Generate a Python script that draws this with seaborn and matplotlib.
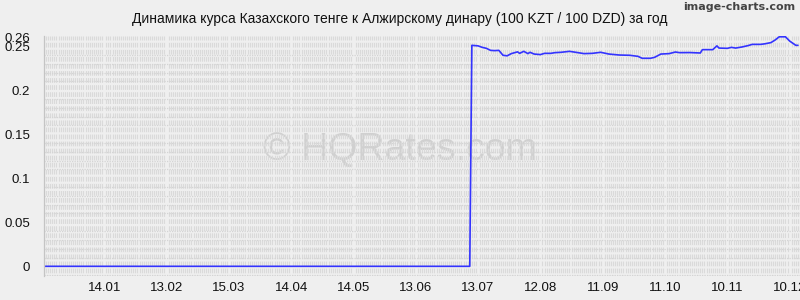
import matplotlib
matplotlib.use("Agg")
import matplotlib.pyplot as plt
import matplotlib.dates as mdates
from matplotlib.ticker import MultipleLocator, FixedLocator
import seaborn as sns
import pandas as pd

# ---- data ----
dates = [
    "2014-12-16", "2015-07-09",
    "2015-07-10", "2015-07-13", "2015-07-15", "2015-07-17", "2015-07-19", "2015-07-21",
    "2015-07-23", "2015-07-25", "2015-07-27", "2015-07-29", "2015-08-01", "2015-08-02",
    "2015-08-04", "2015-08-06", "2015-08-07", "2015-08-09", "2015-08-12", "2015-08-14",
    "2015-08-17", "2015-08-19", "2015-08-22", "2015-08-26", "2015-08-29", "2015-09-02",
    "2015-09-06", "2015-09-10", "2015-09-14", "2015-09-19", "2015-09-24", "2015-09-28",
    "2015-09-30", "2015-10-04", "2015-10-06", "2015-10-09", "2015-10-13", "2015-10-16",
    "2015-10-18", "2015-10-23", "2015-10-28", "2015-10-29", "2015-11-03", "2015-11-05",
    "2015-11-06", "2015-11-10", "2015-11-12", "2015-11-14", "2015-11-17", "2015-11-20",
    "2015-11-22", "2015-11-26", "2015-11-28", "2015-12-01", "2015-12-03", "2015-12-05",
    "2015-12-08", "2015-12-10", "2015-12-13", "2015-12-14",
]
rates = [
    0.0, 0.0,
    0.2509, 0.2503, 0.2486, 0.2475, 0.2452, 0.2449,
    0.2452, 0.2396, 0.2390, 0.2415, 0.2435, 0.2418,
    0.2441, 0.2415, 0.2430, 0.2410, 0.2404, 0.2418,
    0.2418, 0.2426, 0.2430, 0.2441, 0.2430, 0.2415,
    0.2418, 0.2430, 0.2410, 0.2399, 0.2396, 0.2384,
    0.2362, 0.2362, 0.2373, 0.2410, 0.2415, 0.2433,
    0.2426, 0.2427, 0.2422, 0.2460, 0.2460, 0.2503,
    0.2478, 0.2475, 0.2486, 0.2478, 0.2490, 0.2506,
    0.2520, 0.2520, 0.2526, 0.2540, 0.2569, 0.2606,
    0.2606, 0.2558, 0.2509, 0.2509,
]
tick_dates = ["2015-01-14", "2015-02-13", "2015-03-15", "2015-04-14", "2015-05-14",
              "2015-06-13", "2015-07-13", "2015-08-12", "2015-09-11", "2015-10-11",
              "2015-11-10", "2015-12-10"]
tick_labels = ["14.01", "13.02", "15.03", "14.04", "14.05", "13.06", "13.07",
               "12.08", "11.09", "11.10", "10.11", "10.12"]
y_ticks = [0, 0.05, 0.1, 0.15, 0.2, 0.25, 0.26]
y_tick_labels = ["0", "0.05", "0.1", "0.15", "0.2", "0.25", "0.26"]
title = "Динамика курса Казахского тенге к Алжирскому динару (100 KZT / 100 DZD) за год"

df = pd.DataFrame({"date": pd.to_datetime(dates), "rate": rates})

BG = "#efefef"
sns.set_theme(style="white")
plt.rcParams["font.family"] = ["Liberation Sans", "DejaVu Sans"]

fig = plt.figure(figsize=(8, 3), dpi=100, facecolor=BG)
ax = fig.add_axes([0.055, 0.08, 0.945, 0.80])
ax.set_facecolor(BG)

# grid
ax.xaxis.set_minor_locator(mdates.DayLocator())
ax.yaxis.set_minor_locator(MultipleLocator(0.01))
ax.grid(which="minor", axis="x", color="#dadada", linewidth=0.8,
        linestyle=(3.5, (4.25, 2.1)))
ax.grid(which="minor", axis="y", color="#d4d4d4", linewidth=0.9, linestyle=(0, (1, 1)))
ax.grid(which="major", axis="both", visible=False)
ax.set_axisbelow(True)

sns.lineplot(data=df, x="date", y="rate", ax=ax, color="#3333ff", linewidth=1.2)

ax.set_xlim(pd.Timestamp("2014-12-16"), pd.Timestamp("2015-12-15"))
ax.set_ylim(-0.011, 0.2615)

ax.xaxis.set_major_locator(FixedLocator(mdates.date2num(pd.to_datetime(tick_dates))))
ax.set_xticklabels(tick_labels)
ax.set_yticks(y_ticks)
ax.set_yticklabels(y_tick_labels)
ax.tick_params(axis="x", which="both", length=0, labelsize=9.5, pad=4, colors="#111111")
ax.tick_params(axis="y", which="major", length=6, width=0.8, color="#aaaaaa",
               labelsize=9.5, pad=4, labelcolor="#111111")
ax.tick_params(axis="y", which="minor", length=0)
ax.set_xlabel("")
ax.set_ylabel("")

for s in ["top", "right", "bottom"]:
    ax.spines[s].set_visible(False)
ax.spines["left"].set_color("#c4c4c4")
ax.spines["left"].set_linewidth(0.9)

fig.text(0.5, 0.937, title, ha="center", va="center", fontsize=10, color="#111111")
fig.text(0.994, 0.975, "image-charts.com", ha="right", va="center", fontsize=8,
         color="#444444", fontweight="bold", family=["DejaVu Sans"])
ax.text(0.5, 0.50, "© HQRates.com", transform=fig.transFigure, ha="center",
        va="center", fontsize=27, color="#d0d0d0", zorder=0.5)

fig.savefig("out.png", dpi=100, facecolor=BG)
